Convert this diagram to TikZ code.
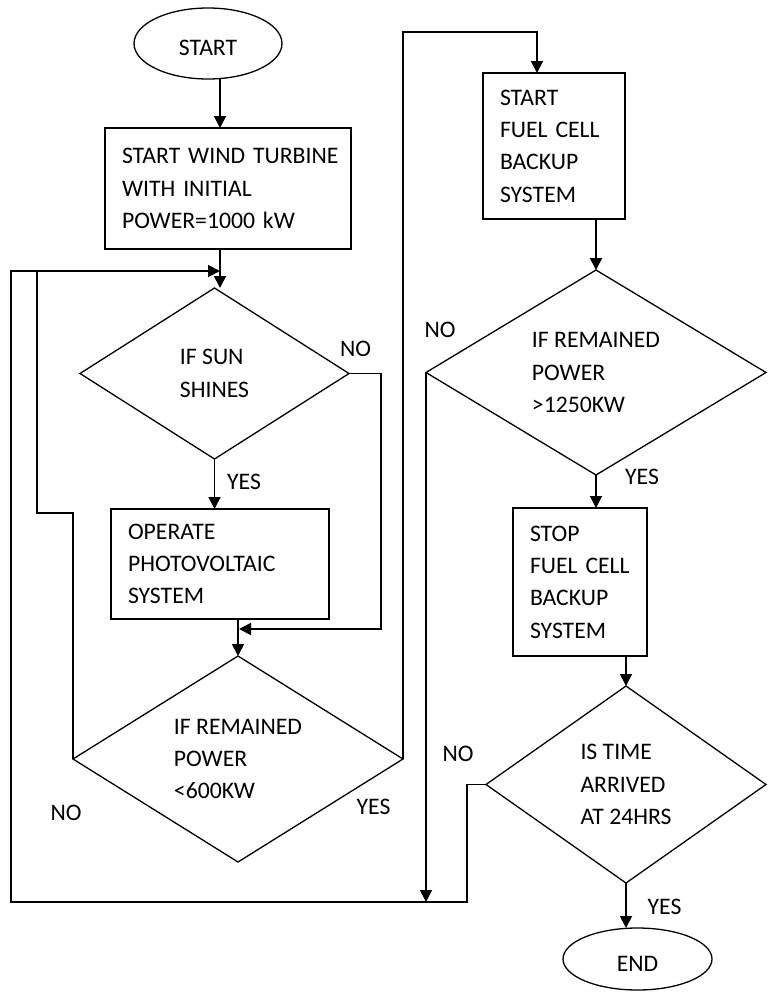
\documentclass[tikz,border=0pt]{standalone}
\usepackage{fontspec}
\setmainfont{Carlito}
\usetikzlibrary{shapes.geometric,arrows.meta,calc}
\begin{document}
\begin{tikzpicture}[x=1pt,y=-1pt,
  every node/.style={font=\fontsize{23.7}{32.3}\selectfont, outer sep=0pt},
  proc/.style={draw, line width=1.7pt, rectangle, inner xsep=17pt, inner ysep=0pt, align=left},
  dec/.style={draw, line width=1.3pt, diamond, inner sep=0pt, align=left},
  term/.style={draw, line width=1.3pt, ellipse, inner sep=0pt, text height=25pt},
  conn/.style={line width=1.8pt},
  arr/.style={conn, -{Triangle[length=12pt,width=12pt]}},
  lbl/.style={inner sep=0pt}
]
\useasboundingbox (0,0) rectangle (768,1001);

\node[term, minimum width=148pt, minimum height=71pt] (start) at (208,43.5) {START};
\node[proc, text width=212pt, minimum height=121pt] (box1) at (228,188.5) {\mbox{START WIND TURBINE}\\\mbox{WITH INITIAL}\\\mbox{POWER=1000 kW}};
\node[dec, minimum width=269pt, minimum height=171pt, aspect=1.57] (d1) at (214.5,373.5) {IF SUN\\SHINES};
\node[proc, text width=184pt, minimum height=110pt] (box2) at (220,564) {OPERATE\\PHOTOVOLTAIC\\SYSTEM};
\node[dec, minimum width=330pt, minimum height=206pt, aspect=1.6] (d2) at (238,759) {\mbox{IF REMAINED}\\POWER\\<600KW};
\node[proc, text width=108pt, minimum height=146pt] (box3) at (554,146) {START\\\mbox{FUEL CELL}\\BACKUP\\SYSTEM};
\node[dec, minimum width=340pt, minimum height=205pt, aspect=1.66] (d3) at (596,372.5) {\mbox{IF REMAINED}\\POWER\\>1250KW};
\node[proc, text width=100pt, minimum height=148pt] (box4) at (580,582) {STOP\\\mbox{FUEL CELL}\\BACKUP\\SYSTEM};
\node[dec, minimum width=280pt, minimum height=197pt, aspect=1.42] (d4) at (626,784.5) {\mbox{IS TIME}\\ARRIVED\\\mbox{AT 24HRS}};
\node[term, minimum width=149pt, minimum height=62pt] (end) at (637.5,959) {END};

\coordinate (j1) at (220,271);
\coordinate (j2) at (239,629);
\coordinate (j3) at (425,902);

% main flow
\draw[arr] ([xshift=12pt]start.south) -- ([xshift=-8pt]box1.north);
\draw[arr] ([xshift=-8pt]box1.south) -- (j1) -- (d1.north -| j1);
\draw[arr] (d1.south) -- (d1.south |- box2.north);
\draw[arr] (d1.east) -- ++(32,0) |- (j2);
\draw[arr] (d2.north |- box2.south) -- (d2.north);
\draw[conn] (d2.west) |- (37,513) -- (37,271);
\draw[arr] (d2.east) |- ([xshift=-17pt,yshift=41pt]box3.north) -- ([xshift=-17pt]box3.north);
\draw[arr] (d3.north |- box3.south) -- (d3.north);
\draw[arr] (d3.south) -- (d3.south |- box4.north);
\draw[arr] (d3.west) -- (d3.west |- j3);
\draw[arr] (d4.north |- box4.south) -- (d4.north);
\draw[arr] (d4.south) -- (d4.south |- end.north);
\draw[arr] (d4.west) -- ++(-19,0) |- (11,902) |- (j1);

% labels
\node[lbl] (no1) at (355.5,348.7) {NO};
\node[lbl] (yes1) at (244,482) {YES};
\node[lbl] (no2) at (66,813) {NO};
\node[lbl] (yes2) at (373.5,806.5) {YES};
\node[lbl] (no3) at (440,329.5) {NO};
\node[lbl] (yes3) at (642,477) {YES};
\node[lbl] (no4) at (458,753.5) {NO};
\node[lbl] (yes4) at (664.5,907) {YES};
\end{tikzpicture}
\end{document}
